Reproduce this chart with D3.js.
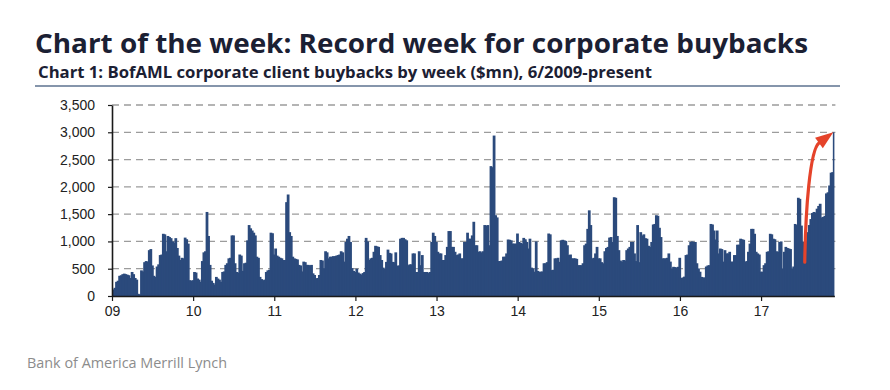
<!DOCTYPE html>
<html>
<head>
<meta charset="utf-8">
<script src="https://cdn.jsdelivr.net/npm/d3@7"></script>
<style>
    body { margin: 0; background: #fff; }
    svg { display: block; }
</style>
</head>
<body>
<svg id="chart"></svg>
<script>
// weekly buybacks ($mn), one array per year starting 6/2009
const weeks2009 = [120,150,260,280,370,380,400,410,400,390,380,330,440,400,330,300,40,30,470,450,620,640,630,840,860,560,370,350,540,580,750,760,1140,1130,820,1100,1080,1060,1000,980,1060,880,740,660,700,690,1070,1040,960,290,280,290];
const weeks2010 = [440,430,320,300,260,640,800,820,1540,1100,570,280,240,210,350,320,300,260,440,450,570,600,690,700,1110,1110,600,440,430,760,740,460,600,610,1020,1300,1240,1200,1160,1110,720,700,350,310,290,300,440,470,480,1160,1150,760];
const weeks2011 = [870,740,720,700,690,660,660,1720,1860,1170,1100,720,690,680,670,570,560,450,630,620,570,570,560,570,415,385,325,330,385,660,650,510,820,800,690,720,720,730,730,740,750,760,820,800,630,990,1050,1100,990,510,460,440];
const weeks2012 = [500,430,410,395,420,440,1065,1000,660,690,700,810,920,910,900,750,660,520,500,625,850,790,780,625,620,800,555,560,1050,1065,1065,1040,1020,565,580,580,780,780,440,440,820,565,750,440,440,440,420,440,990,1160,1100,990];
const weeks2013 = [810,780,780,660,660,750,900,1190,1190,900,900,810,750,760,780,690,690,990,990,1160,1050,1050,1110,1360,930,930,810,820,800,820,1300,1290,1300,930,2380,2360,2940,1480,1440,640,640,650,720,720,780,1035,1030,1020,960,960,960,1145];
const weeks2014 = [990,975,960,1065,1040,990,870,1050,520,505,445,1000,460,445,445,450,600,600,620,1145,1130,475,480,690,690,700,625,1020,1030,1020,1010,930,750,760,690,690,690,680,565,565,565,600,930,960,1230,1570,1300,690,700,780,900,690];
const weeks2015 = [690,620,600,820,880,900,1070,1080,990,1810,1800,1100,840,650,630,660,650,840,870,900,990,990,780,640,1300,620,1170,1110,1130,1060,1050,920,900,990,1310,1320,1480,1470,1250,1080,690,690,690,700,780,630,505,535,530,520,535,700];
const weeks2016 = [330,340,355,750,760,930,990,1000,990,990,600,505,445,350,340,340,540,560,565,1320,1310,1200,1035,1200,780,870,860,630,840,780,780,810,630,630,750,750,940,940,1050,1040,1030,630,640,810,960,1230,1230,1140,810,780,760,445];
const weeks2017 = [445,565,600,810,820,1140,1130,1050,1040,820,810,990,1000,505,810,900,880,870,860,505,540,1320,1300,1800,1780,1290,990,1000,1020,1170,1300,1410,1520,1540,1530,1600,1650,1690,1440,1450,1470,1880,1900,2025,2260,2270,3000];

const yearLabels = ['09', '10', '11', '12', '13', '14', '15', '16', '17'];
const weeksPerYear = 52;
const yTicks = [0, 500, 1000, 1500, 2000, 2500, 3000, 3500];

// arrow annotation anchors in data units (week index, $mn)
const arrowPath = [[444, 620], [444.5, 1570], [447.3, 2675], [453.1, 2804]];
const arrowTip = [462.3, 3000];

class BuybackChart {
    margin = { top: 105, right: 55.6, bottom: 94, left: 112 };

    constructor(svg, width = 890, height = 390) {
        this.svg = svg;
        this.width = width;
        this.height = height;
    }

    initialize() {
        this.svg = d3.select(this.svg)
            .attr('width', this.width)
            .attr('height', this.height);
        this.svg.append('rect')
            .attr('width', this.width)
            .attr('height', this.height)
            .attr('fill', '#fff');

        this.grid = this.svg.append('g');
        this.container = this.svg.append('g');
        this.xAxis = this.svg.append('g');
        this.yAxis = this.svg.append('g');
        this.notes = this.svg.append('g');

        this.xScale = d3.scaleLinear()
            .range([this.margin.left, this.width - this.margin.right]);
        this.yScale = d3.scaleLinear()
            .range([this.height - this.margin.bottom, this.margin.top]);

        this.svg.append('text')
            .attr('x', 35)
            .attr('y', 53)
            .attr('textLength', 773)
            .attr('lengthAdjust', 'spacingAndGlyphs')
            .attr('font-family', "'Open Sans', sans-serif")
            .attr('font-weight', 700)
            .attr('font-size', 27)
            .attr('fill', '#1b2033')
            .text('Chart of the week: Record week for corporate buybacks');

        this.svg.append('text')
            .attr('x', 38)
            .attr('y', 78)
            .attr('textLength', 614)
            .attr('lengthAdjust', 'spacingAndGlyphs')
            .attr('font-family', "'Open Sans', sans-serif")
            .attr('font-weight', 700)
            .attr('font-size', 16)
            .attr('fill', '#1b2033')
            .text('Chart 1: BofAML corporate client buybacks by week ($mn), 6/2009-present');

        this.svg.append('line')
            .attr('x1', 35)
            .attr('x2', 840)
            .attr('y1', 86)
            .attr('y2', 86)
            .attr('stroke', '#8595ab')
            .attr('stroke-width', 2);

        this.svg.append('text')
            .attr('x', 27)
            .attr('y', 368)
            .attr('textLength', 200)
            .attr('lengthAdjust', 'spacingAndGlyphs')
            .attr('font-family', "'Open Sans', sans-serif")
            .attr('font-size', 14.5)
            .attr('fill', '#8c8c8c')
            .text('Bank of America Merrill Lynch');
    }

    update(data) {
        const x = this.xScale.domain([0, data.length]);
        const y = this.yScale.domain([0, 3500]);

        this.grid
            .selectAll('line')
            .data(yTicks.filter(d => d > 0))
            .join('line')
            .attr('x1', x(0))
            .attr('x2', x(data.length) + 1)
            .attr('y1', d => y(d))
            .attr('y2', d => y(d))
            .attr('stroke', '#9c9c9c')
            .attr('stroke-width', 1.3)
            .attr('stroke-dasharray', '7,5');

        // bars overlap their right neighbour slightly so no seams show
        this.container
            .selectAll('rect')
            .data(data)
            .join('rect')
            .attr('x', (d, i) => x(i))
            .attr('width', (d, i) => x(i + 1) - x(i) + (i < data.length - 1 ? 1.2 : 0))
            .attr('y', d => y(d))
            .attr('height', d => y(0) - y(d))
            .attr('fill', '#2b4a7c');

        this.xAxis
            .attr('transform', `translate(0, ${y(0)})`)
            .call(
                d3.axisBottom(x)
                    .tickValues(yearLabels.map((d, i) => i * weeksPerYear))
                    .tickFormat((d, i) => yearLabels[i])
                    .tickSize(5)
                    .tickSizeOuter(0)
                    .tickPadding(5)
            );

        this.yAxis
            .attr('transform', `translate(${x(0)}, 0)`)
            .call(
                d3.axisLeft(y)
                    .tickValues(yTicks)
                    .tickFormat(d3.format(','))
                    .tickSize(4)
                    .tickSizeOuter(0)
                    .tickPadding(13)
            );

        [this.xAxis, this.yAxis].forEach(axis => {
            axis.select('.domain').attr('stroke', '#1a1a1a').attr('stroke-width', 1.6);
            axis.selectAll('.tick line').attr('stroke', '#1a1a1a').attr('stroke-width', 1.2);
            axis.selectAll('text')
                .attr('font-family', "'Liberation Sans', Arial, sans-serif")
                .attr('font-size', 14)
                .attr('fill', '#222');
        });

        // red arrow pointing at the record week
        const p = arrowPath.map(d => [x(d[0]), y(d[1])]);
        const tip = [x(arrowTip[0]), y(arrowTip[1])];
        const end = p[3];
        const len = Math.hypot(tip[0] - end[0], tip[1] - end[1]);
        const ux = (tip[0] - end[0]) / len;
        const uy = (tip[1] - end[1]) / len;
        const half = 6.5;

        this.notes.append('path')
            .attr('d', `M${p[0]}C${p[1]} ${p[2]} ${p[3]}`)
            .attr('fill', 'none')
            .attr('stroke', '#e5432a')
            .attr('stroke-width', 3.2)
            .attr('stroke-linecap', 'round');

        this.notes.append('path')
            .attr('d', `M${tip}L${[end[0] - uy * half, end[1] + ux * half]}L${[end[0] + uy * half, end[1] - ux * half]}Z`)
            .attr('fill', '#e5432a');
    }
}

const buybacks = [].concat(
    weeks2009, weeks2010, weeks2011, weeks2012, weeks2013,
    weeks2014, weeks2015, weeks2016, weeks2017
);

const chart = new BuybackChart('#chart');
chart.initialize();
chart.update(buybacks);
</script>
</body>
</html>
